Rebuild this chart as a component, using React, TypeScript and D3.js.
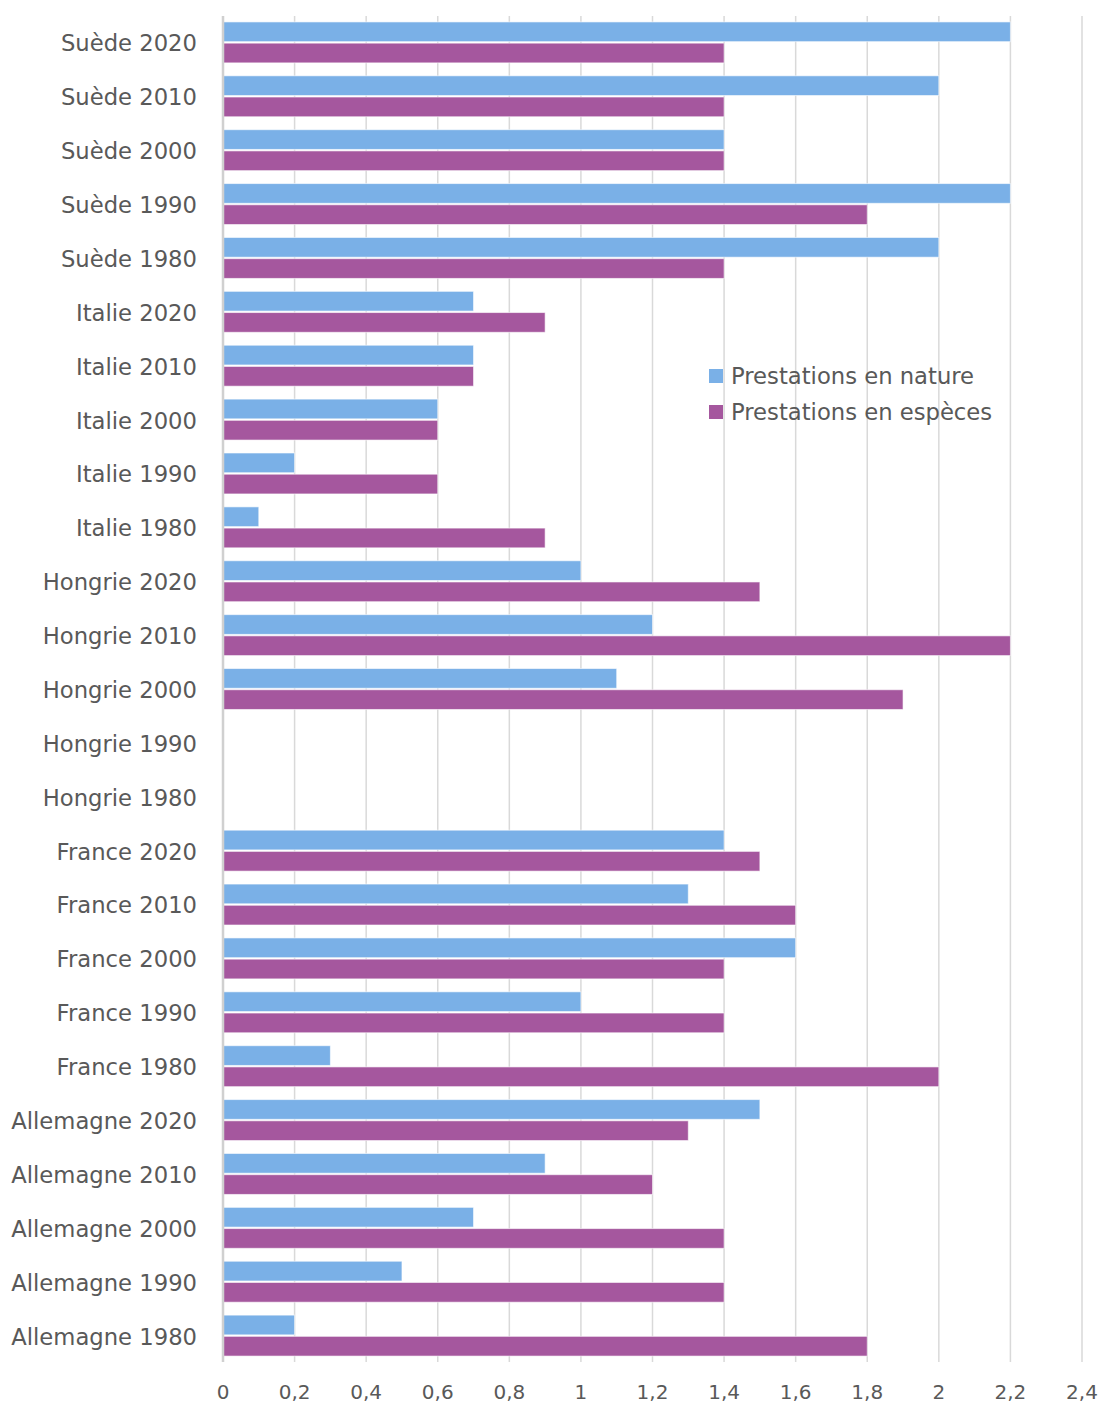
import * as d3 from 'd3'
import { useEffect, useRef } from 'react'

const fullWidth = 1100
const fullHeight = 1405
const margin = { top: 16, right: 18, bottom: 43, left: 223 }
const width = fullWidth - margin.left - margin.right
const height = fullHeight - margin.top - margin.bottom

const categories = [
  'Suède 2020', 'Suède 2010', 'Suède 2000', 'Suède 1990', 'Suède 1980',
  'Italie 2020', 'Italie 2010', 'Italie 2000', 'Italie 1990', 'Italie 1980',
  'Hongrie 2020', 'Hongrie 2010', 'Hongrie 2000', 'Hongrie 1990', 'Hongrie 1980',
  'France 2020', 'France 2010', 'France 2000', 'France 1990', 'France 1980',
  'Allemagne 2020', 'Allemagne 2010', 'Allemagne 2000', 'Allemagne 1990', 'Allemagne 1980',
]

// null = pas de donnée
const nature = [
  2.2, 2.0, 1.4, 2.2, 2.0,
  0.7, 0.7, 0.6, 0.2, 0.1,
  1.0, 1.2, 1.1, null, null,
  1.4, 1.3, 1.6, 1.0, 0.3,
  1.5, 0.9, 0.7, 0.5, 0.2,
]
const especes = [
  1.4, 1.4, 1.4, 1.8, 1.4,
  0.9, 0.7, 0.6, 0.6, 0.9,
  1.5, 2.2, 1.9, null, null,
  1.5, 1.6, 1.4, 1.4, 2.0,
  1.3, 1.2, 1.4, 1.4, 1.8,
]

const seriesNames = ['Prestations en nature', 'Prestations en espèces']
const colors = ['#7AB0E7', '#A5579E']
const ticks = [0, 0.2, 0.4, 0.6, 0.8, 1, 1.2, 1.4, 1.6, 1.8, 2, 2.2, 2.4]

const font = "'DejaVu Sans', 'Noto Sans', sans-serif"
const textColor = '#595959'

export default function App() {
  const ref = useRef<SVGSVGElement>(null)

  useEffect(() => {
    document.body.style.margin = '0'
    const root = d3.select(ref.current)
    root.selectAll('*').remove()
    const svg = root
      .append('g')
      .attr('transform', `translate(${margin.left}, ${margin.top})`)

    const xScale = d3.scaleLinear().domain([0, 2.4]).range([0, width])
    const yScale = d3.scaleBand().domain(categories).range([0, height]).paddingInner(0.24).paddingOuter(0.11)
    const inner = d3.scaleBand().domain(['0', '1']).range([0, yScale.bandwidth()]).paddingInner(0.07)

    // gridlines
    svg
      .selectAll('line.grid')
      .data(ticks.slice(1))
      .enter()
      .append('line')
      .attr('class', 'grid')
      .attr('x1', (d) => xScale(d))
      .attr('x2', (d) => xScale(d))
      .attr('y1', 0)
      .attr('y2', height)
      .attr('stroke', '#d9d9d9')
      .attr('stroke-width', 1.5)

    // bars
    const rows = categories.map((c, i) => ({ c, vals: [nature[i], especes[i]] }))
    const groups = svg
      .selectAll('g.row')
      .data(rows)
      .enter()
      .append('g')
      .attr('transform', (d) => `translate(0, ${yScale(d.c)})`)
    groups
      .selectAll('rect')
      .data((d) => d.vals.map((v, k) => ({ v, k })).filter((e) => e.v != null))
      .enter()
      .append('rect')
      .attr('x', 0)
      .attr('y', (d) => inner(String(d.k)))
      .attr('width', (d) => xScale(d.v as number))
      .attr('height', inner.bandwidth())
      .attr('fill', (d) => colors[d.k])
      .attr('stroke', '#ffffff')
      .attr('stroke-opacity', 0.6)
      .attr('stroke-width', 1)

    // vertical axis line
    svg
      .append('line')
      .attr('x1', 0)
      .attr('x2', 0)
      .attr('y1', 0)
      .attr('y2', height)
      .attr('stroke', '#d0d0d0')
      .attr('stroke-width', 2.5)

    // category labels
    svg
      .selectAll('text.cat')
      .data(categories)
      .enter()
      .append('text')
      .attr('class', 'cat')
      .attr('x', -26)
      .attr('y', (d) => (yScale(d) as number) + yScale.bandwidth() / 2 + 1)
      .attr('dy', '0.35em')
      .attr('text-anchor', 'end')
      .attr('font-family', font)
      .attr('font-size', 22.7)
      .attr('fill', textColor)
      .text((d) => d)

    // x tick labels
    svg
      .selectAll('text.tick')
      .data(ticks)
      .enter()
      .append('text')
      .attr('class', 'tick')
      .attr('x', (d) => xScale(d))
      .attr('y', height + 37)
      .attr('text-anchor', 'middle')
      .attr('font-family', font)
      .attr('font-size', 20)
      .attr('fill', textColor)
      .text((d) => d3.format('~g')(d).replace('.', ','))

    // legend
    const legend = svg.append('g').attr('transform', `translate(${709 - margin.left}, ${369 - margin.top})`)
    seriesNames.forEach((name, i) => {
      legend
        .append('rect')
        .attr('x', 0)
        .attr('y', i * 36)
        .attr('width', 14)
        .attr('height', 14)
        .attr('fill', colors[i])
      legend
        .append('text')
        .attr('x', 22)
        .attr('y', i * 36 + 15)
        .attr('font-family', font)
        .attr('font-size', 22.7)
        .attr('fill', textColor)
        .text(name)
    })
  }, [])

  return <svg ref={ref} width={fullWidth} height={fullHeight} style={{ display: 'block', background: '#fff' }} />
}
